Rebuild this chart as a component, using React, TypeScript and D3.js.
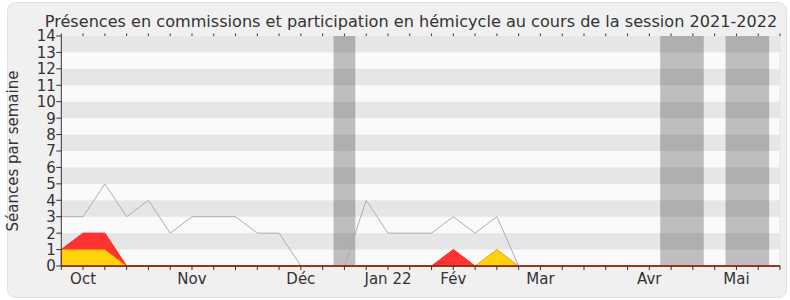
import React from "react";
import * as d3 from "d3";

const TITLE = "Présences en commissions et participation en hémicycle au cours de la session 2021-2022";
const Y_LABEL = "Séances par semaine";

// weekly index 0..33
const WEEK_COUNT = 34;
const hemicycle = [3, 3, 5, 3, 4, 2, 3, 3, 3, 2, 2, 0, 0, 0, 4, 2, 2, 2, 3, 2, 3, 0, 0, 0, 0, 0, 0, 0, 0, 0, 0, 0, 0, 0];
const commissions = [1, 2, 2, 0, 0, 0, 0, 0, 0, 0, 0, 0, 0, 0, 0, 0, 0, 0, 1, 0, 0, 0, 0, 0, 0, 0, 0, 0, 0, 0, 0, 0, 0, 0];
const participation = [1, 1, 1, 0, 0, 0, 0, 0, 0, 0, 0, 0, 0, 0, 0, 0, 0, 0, 0, 0, 1, 0, 0, 0, 0, 0, 0, 0, 0, 0, 0, 0, 0, 0];
const monthLabels = ["Oct", "Nov", "Déc", "Jan 22", "Fév", "Mar", "Avr", "Mai"];
const monthWeeks = [1, 6, 11, 15, 18, 22, 27, 31];
const vacationStarts = [12.5, 27.5, 30.5];
const vacationEnds = [13.5, 29.5, 32.5];
const yTicks = d3.range(0, 15);

const W = 790;
const H = 300;
const M = { left: 61.3, right: 780, top: 36, bottom: 266 };

export default function App() {
  const x = d3.scaleLinear().domain([0, WEEK_COUNT - 1]).range([M.left, M.right]);
  const y = d3.scaleLinear().domain([0, 14]).range([M.bottom, M.top]);
  const idx = d3.range(WEEK_COUNT);

  const area = (vals: number[]) =>
    d3
      .area<number>()
      .x((i) => x(i))
      .y0(y(0))
      .y1((i) => y(vals[i]))(idx) || "";
  const line = d3
    .line<number>()
    .x((i) => x(i))
    .y((i) => y(hemicycle[i]))(idx) || "";

  const font = "'DejaVu Sans', Verdana, sans-serif";
  const textColor = "#333";

  return (
    <svg width={W} height={H} style={{ position: "absolute", left: 0, top: 0 }} fontFamily={font}>
      <rect x={0} y={0} width={W} height={H} fill="#ffffff" />
      <rect x={7.5} y={2.5} width={779} height={295} rx={8} fill="#f0f0f0" stroke="#e2e2e2" />
      <text x={411} y={26.5} fontSize={16.1} fill={textColor} textAnchor="middle">
        {TITLE}
      </text>
      {/* plot background */}
      <rect x={M.left} y={M.top} width={M.right - M.left} height={M.bottom - M.top} fill="#fafafa" />
      {vacationStarts.map((s, i) => (
        <rect key={"v" + i} x={x(s)} y={M.top} width={x(vacationEnds[i]) - x(s)} height={M.bottom - M.top} fill="#bebebe" />
      ))}
      {yTicks
        .filter((t) => t % 2 === 1)
        .map((t) => (
          <rect key={"s" + t} x={M.left} y={y(t + 1)} width={M.right - M.left} height={y(t) - y(t + 1)} fill="#000" fillOpacity={0.08} />
        ))}
      <line x1={M.right} x2={M.right} y1={M.top} y2={M.bottom} stroke="#e4e4e4" />
      {/* areas */}
      <path d={area(commissions)} fill="#ff3333" stroke="#ff1a1a" strokeWidth={1} />
      <path d={area(participation)} fill="#ffd20a" stroke="#ff7f00" strokeWidth={0.8} />
      <path d={line} fill="none" stroke="#adadad" strokeWidth={1} />
      <line x1={M.left} x2={M.right} y1={y(0)} y2={y(0)} stroke="#7a1f0f" strokeWidth={1.5} />
      {/* left axis */}
      <line x1={M.left} x2={M.left} y1={M.top} y2={M.bottom} stroke="#333" strokeWidth={1} />
      {yTicks.map((t) => (
        <g key={"y" + t}>
          <line x1={M.left - 5} x2={M.left} y1={y(t)} y2={y(t)} stroke="#333" />
          <text x={M.left - 5.5} y={y(t)} dy="0.36em" textAnchor="end" fontSize={15} fill={textColor}>
            {t}
          </text>
        </g>
      ))}
      {/* bottom & top ticks */}
      {idx.map((i) => (
        <g key={"x" + i}>
          <line x1={x(i)} x2={x(i)} y1={M.bottom} y2={M.bottom + 4} stroke="#333" />
          <line x1={x(i)} x2={x(i)} y1={M.top - 2.5} y2={M.top} stroke="#333" />
        </g>
      ))}
      {monthLabels.map((m, i) => (
        <text key={m} x={x(monthWeeks[i])} y={283.5} textAnchor="middle" fontSize={15} fill={textColor}>
          {m}
        </text>
      ))}
      <text transform={`translate(17.5,${(M.top + M.bottom) / 2}) rotate(-90)`} textAnchor="middle" fontSize={15} fill={textColor}>
        {Y_LABEL}
      </text>
    </svg>
  );
}
